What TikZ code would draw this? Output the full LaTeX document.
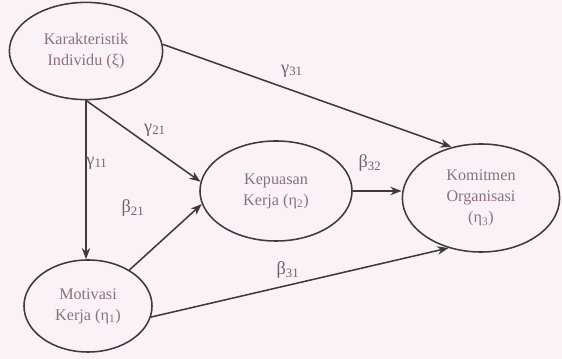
\documentclass[tikz,border=0pt]{standalone}
\usepackage{fontspec}
\setmainfont{Liberation Serif}
\usetikzlibrary{shapes.geometric,arrows.meta}

\definecolor{paper}{RGB}{251,242,248}
\definecolor{ink}{RGB}{62,58,64}
\definecolor{txt}{RGB}{140,112,128}
\definecolor{lbl}{RGB}{112,100,112}

\begin{document}
\begin{tikzpicture}[x=0.025cm,y=-0.025cm,
    var/.style={ellipse,draw=ink,line width=1.1pt,inner sep=0pt,align=center,
      text=txt,font=\fontsize{11.5}{15}\selectfont},
    path/.style={draw=ink,line width=1.1pt,-{Stealth[length=8pt,width=6pt]}},
    coef/.style={text=lbl,font=\fontsize{13}{15}\selectfont,inner sep=0pt}]
    \fill[paper] (0,0) rectangle (562,359);
    \useasboundingbox (0,0) rectangle (562,359);
    % latent variables
    \node[var,minimum width=3.83cm,minimum height=2.43cm] (kar) at (86,51) {Karakteristik\\Individu (ξ)};
    \node[var,minimum width=3.8cm,minimum height=2.5cm] (kep) at (276,191) {Kepuasan\\Kerja (η\textsubscript{2})};
    \node[var,minimum width=3.93cm,minimum height=2.7cm] (kom) at (481,198) {Komitmen\\Organisasi\\(η\textsubscript{3})};
    \node[var,minimum width=3.2cm,minimum height=2.3cm] (mot) at (88,306) {Motivasi\\Kerja (η\textsubscript{1})};
    % paths
    \draw[path] (kar.south) -- (kar.south |- mot.north);
    \draw[path] (kar.south) -- (kep.173);
    \draw[path] (mot.41) -- (kep.190);
    \draw[path] (kep.east) -- (kom.west |- kep.east);
    \draw[path] (kar.5) -- (kom.120);
    \draw[path] (mot.-10) -- (kom.237);
    % coefficients
    \node[coef] (g11) at (97,163) {γ\textsubscript{11}};
    \node[coef] (g21) at (155,130) {γ\textsubscript{21}};
    \node[coef] (g31) at (292,71) {γ\textsubscript{31}};
    \node[coef] (b21) at (133,208) {β\textsubscript{21}};
    \node[coef] (b32) at (370,163) {β\textsubscript{32}};
    \node[coef] (b31) at (288,270) {β\textsubscript{31}};
\end{tikzpicture}
\end{document}
